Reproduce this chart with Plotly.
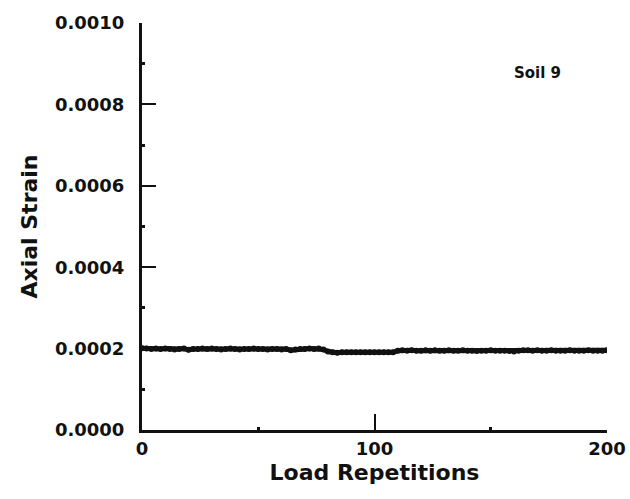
import plotly.graph_objects as go

reps = list(range(0, 201, 2))
strain = [
    0.000201, 0.000200, 0.000199, 0.000200, 0.000199, 0.000200, 0.000199, 0.000198, 0.000199, 0.000200,
    0.000197, 0.000199, 0.000199, 0.000200, 0.000199, 0.000200, 0.000199, 0.000198, 0.000199, 0.000200,
    0.000199, 0.000198, 0.000199, 0.000199, 0.000200, 0.000199, 0.000199, 0.000198, 0.000199, 0.000199,
    0.000198, 0.000199, 0.000196, 0.000198, 0.000199, 0.000199, 0.000200, 0.000199, 0.000200, 0.000198,
    0.000193, 0.000191, 0.000190, 0.000191, 0.000191, 0.000191, 0.000191, 0.000191, 0.000191, 0.000191,
    0.000191, 0.000191, 0.000191, 0.000191, 0.000191, 0.000195, 0.000196, 0.000195, 0.000196, 0.000195,
    0.000195, 0.000196, 0.000195, 0.000196, 0.000195, 0.000195, 0.000196, 0.000195, 0.000195, 0.000196,
    0.000195, 0.000195, 0.000194, 0.000195, 0.000195, 0.000196, 0.000195, 0.000195, 0.000195, 0.000194,
    0.000193, 0.000195, 0.000196, 0.000196, 0.000195, 0.000196, 0.000195, 0.000195, 0.000196, 0.000195,
    0.000195, 0.000195, 0.000196, 0.000195, 0.000195, 0.000195, 0.000196, 0.000195, 0.000195, 0.000195,
    0.000196,
]

x_ticks = [0, 100, 200]
y_ticks = [0.0, 0.0002, 0.0004, 0.0006, 0.0008, 0.0010]
y_tick_text = ["0.0000", "0.0002", "0.0004", "0.0006", "0.0008", "0.0010"]

font_family = "DejaVu Sans"

fig = go.Figure()
fig.add_trace(go.Scatter(
    x=reps, y=strain, mode="lines+markers",
    line=dict(color="#111111", width=5),
    marker=dict(color="#111111", size=6),
    showlegend=False,
))

fig.add_annotation(
    x=170, y=0.000877, text="<b>Soil 9</b>", showarrow=False,
    font=dict(family=font_family, size=15, color="#111111"),
)

fig.update_layout(
    width=630, height=499,
    margin=dict(l=142, r=23, t=23, b=69),
    paper_bgcolor="white", plot_bgcolor="white",
    font=dict(family=font_family, color="#111111"),
)
fig.update_xaxes(
    range=[0, 200], tickvals=x_ticks, ticktext=[str(v) for v in x_ticks],
    automargin=False,
    showgrid=False, zeroline=False,
    showline=True, linecolor="#111111", linewidth=3,
    ticks="inside", ticklen=16, tickwidth=2, tickcolor="#111111",
    minor=dict(tickvals=[50, 150], ticks="inside", ticklen=3, tickwidth=3, tickcolor="#111111"),
    tickfont=dict(size=18, family=font_family, weight="bold"),
    title=dict(text="<b>Load Repetitions</b>", font=dict(size=22, family=font_family), standoff=8),
)
fig.update_yaxes(
    range=[0, 0.001], tickvals=y_ticks, ticktext=y_tick_text,
    automargin=False,
    showgrid=False, zeroline=False,
    showline=True, linecolor="#111111", linewidth=3,
    ticks="inside", ticklen=14, tickwidth=2, tickcolor="#111111",
    ticklabelstandoff=11,
    minor=dict(tickvals=[0.0001, 0.0003, 0.0005, 0.0007, 0.0009], ticks="inside", ticklen=3, tickwidth=3, tickcolor="#111111"),
    tickfont=dict(size=18, family=font_family, weight="bold"),
    title=dict(text="<b>Axial Strain</b>", font=dict(size=22, family=font_family), standoff=12),
)

fig.write_html("out.html", config={"displayModeBar": False},
               post_script="document.body.style.margin='0';")
